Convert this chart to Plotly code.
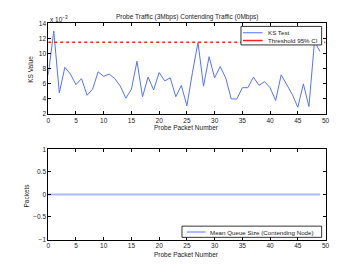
import plotly.graph_objects as go

packet_numbers = list(range(50))
ks_values = [7.2, 13.0, 4.8, 8.2, 7.3, 5.9, 6.7, 4.5, 5.3, 7.6,
             7.0, 7.3, 6.7, 5.7, 4.1, 5.3, 9.0, 4.3, 6.9, 5.2,
             7.5, 6.4, 6.8, 4.3, 5.8, 3.1, 7.5, 11.5, 5.7, 9.6,
             6.8, 8.3, 6.8, 4.0, 4.0, 5.5, 5.5, 6.9, 5.8, 6.3,
             5.5, 3.8, 7.2, 5.8, 4.6, 2.9, 6.0, 3.0, 11.6, 10.3]
ks_values = [v * 1e-3 for v in ks_values]
threshold = 0.0115
queue_sizes = [0] * 50

W, H = 363, 273
font = dict(family="Liberation Sans, Arial, sans-serif", size=6.5, color="#222")
legend_font = dict(family="Liberation Sans, Arial, sans-serif", size=6.2, color="#222")

KS_COLOR = "#5572ff"
TH_COLOR = "#ff2020"
Q_COLOR = "#aabbff"

fig = go.Figure()
fig.add_trace(go.Scatter(x=packet_numbers, y=ks_values, mode="lines", name="KS Test",
                         line=dict(color=KS_COLOR, width=1), xaxis="x", yaxis="y"))
fig.add_trace(go.Scatter(x=[packet_numbers[0], packet_numbers[-1] + 1], y=[threshold, threshold], mode="lines",
                         name="Threshold 95% CI", line=dict(color=TH_COLOR, width=1.5, dash="dot"),
                         xaxis="x", yaxis="y"))
fig.add_trace(go.Scatter(x=packet_numbers, y=queue_sizes, mode="lines", name="Mean Queue Size (Contending Node)",
                         line=dict(color=Q_COLOR, width=2), xaxis="x2", yaxis="y2"))

x0, x1 = 47 / W, 329 / W
axis_common = dict(showline=True, linecolor="black", linewidth=0.8, mirror="ticks", ticks="inside",
                   ticklen=3, tickcolor="black", showgrid=False, zeroline=False, tickfont=font)


def px(x):
    return x / W


def py(y):
    return (H - y) / H


shapes = [
    # top legend box
    dict(type="rect", xref="paper", yref="paper", x0=px(243), x1=px(325), y0=py(42), y1=py(23),
         line=dict(color="black", width=0.8), fillcolor="white", layer="above"),
    dict(type="line", xref="paper", yref="paper", x0=px(245), x1=px(265), y0=py(29.5), y1=py(29.5),
         line=dict(color=KS_COLOR, width=1), layer="above"),
    dict(type="line", xref="paper", yref="paper", x0=px(245), x1=px(265), y0=py(37.5), y1=py(37.5),
         line=dict(color=TH_COLOR, width=1.5), layer="above"),
    # bottom legend box
    dict(type="rect", xref="paper", yref="paper", x0=px(183), x1=px(325), y0=py(239.5), y1=py(228),
         line=dict(color="black", width=0.8), fillcolor="white", layer="above"),
    dict(type="line", xref="paper", yref="paper", x0=px(188), x1=px(207), y0=py(234), y1=py(234),
         line=dict(color=Q_COLOR, width=2), layer="above"),
]

annotations = [
    dict(text="Probe Traffic (3Mbps) Contending Traffic (0Mbps)", x=(x0 + x1) / 2, y=py(13),
         xanchor="center", yanchor="middle"),
    dict(text="x 10<sup>\u22123</sup>", x=x0, y=py(15.5), xanchor="left", yanchor="middle"),
    dict(text="Probe Packet Number", x=(x0 + x1) / 2, y=py(127), xanchor="center", yanchor="middle"),
    dict(text="Probe Packet Number", x=(x0 + x1) / 2, y=py(257), xanchor="center", yanchor="middle"),
    dict(text="KS Value", x=px(29), y=py(67), xanchor="center", yanchor="middle", textangle=-90),
    dict(text="Packets", x=px(25), y=py(197), xanchor="center", yanchor="middle", textangle=-90),
]
for a in annotations:
    a.update(font=font)
legend_texts = [
    dict(text="KS Test", x=px(268), y=py(29.5), xanchor="left", yanchor="middle"),
    dict(text="Threshold 95% CI", x=px(268), y=py(37.5), xanchor="left", yanchor="middle"),
    dict(text="Mean Queue Size (Contending Node)", x=px(209), y=py(234), xanchor="left", yanchor="middle"),
]
for a in legend_texts:
    a.update(font=legend_font)
annotations += legend_texts
for a in annotations:
    a.update(xref="paper", yref="paper", showarrow=False)

fig.update_layout(
    width=W, height=H, margin=dict(l=0, r=0, t=0, b=0),
    paper_bgcolor="white", plot_bgcolor="white", font=font, showlegend=False,
    xaxis=dict(domain=[x0, x1], range=[0, 50], tickvals=list(range(0, 51, 5)), anchor="y", **axis_common),
    yaxis=dict(domain=[py(113), py(20)], range=[0.002, 0.014],
               tickvals=[0.002 * i for i in range(1, 8)], ticktext=[str(2 * i) for i in range(1, 8)],
               anchor="x", **axis_common),
    xaxis2=dict(domain=[x0, x1], range=[0, 50], tickvals=list(range(0, 51, 5)), anchor="y2", **axis_common),
    yaxis2=dict(domain=[py(241.7), py(149.3)], range=[-1, 1],
                tickvals=[-1, -0.5, 0, 0.5, 1], ticktext=["\u22121", "\u22120.5", "0", "0.5", "1"],
                anchor="x2", **axis_common),
    shapes=shapes,
    annotations=annotations,
)

fig.write_html("out.html", config={"displayModeBar": False},
               post_script="document.body.style.margin='0';document.body.style.overflow='hidden';")
